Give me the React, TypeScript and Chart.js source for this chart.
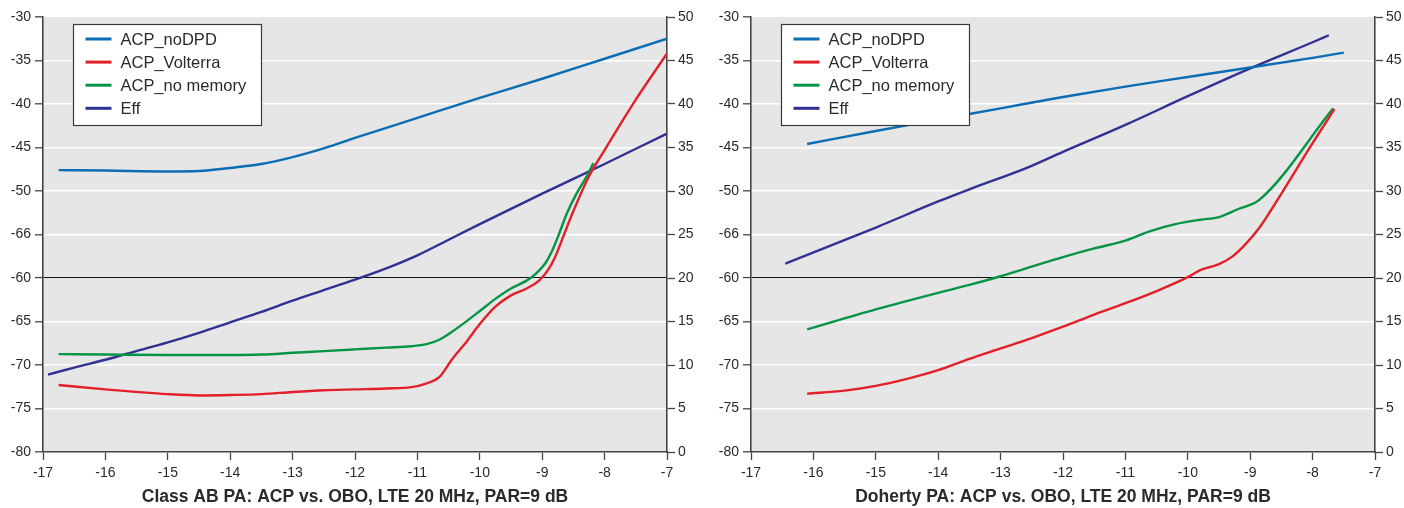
import React, { useEffect, useRef } from "react";
import { Chart, registerables } from "chart.js";

Chart.register(...registerables);

// ---------- data ----------
const SERIES_NAMES = ["ACP_noDPD", "ACP_Volterra", "ACP_no memory", "Eff"];
const SERIES_COLORS = ["#0b6db4", "#e3202a", "#069447", "#2f3193"];

const LEFT_TICK_LABELS = ["-30", "-35", "-40", "-45", "-50", "-66", "-60", "-65", "-70", "-75", "-80"];
const RIGHT_TICK_LABELS = ["50", "45", "40", "35", "30", "25", "20", "15", "10", "5", "0"];
const X_TICK_LABELS = ["-17", "-16", "-15", "-14", "-13", "-12", "-11", "-10", "-9", "-8", "-7"];

const TITLE_AB = "Class AB PA: ACP vs. OBO, LTE 20 MHz, PAR=9 dB";
const TITLE_DOHERTY = "Doherty PA: ACP vs. OBO, LTE 20 MHz, PAR=9 dB";

// Class AB panel
const AB_NODPD_X = [-16.75, -16, -15, -14.5, -14, -13.5, -13, -12.5, -12, -11, -10, -9, -8, -7];
const AB_NODPD_Y = [-47.6, -47.65, -47.75, -47.7, -47.35, -46.9, -46.1, -45.1, -43.9, -41.6, -39.3, -37.1, -34.8, -32.5];

const AB_VOLT_X = [-16.75, -16, -15, -14.5, -14, -13.5, -13, -12.5, -12, -11.5, -11.1, -10.85, -10.65, -10.45, -10.2, -10, -9.75, -9.5, -9.25, -9.05, -8.9, -8.8, -8.65, -8.5, -8.25, -8, -7.5, -7];
const AB_VOLT_Y = [-72.3, -72.8, -73.35, -73.5, -73.45, -73.35, -73.1, -72.9, -72.8, -72.7, -72.55, -72.1, -71.4, -69.4, -67.2, -65.3, -63.3, -62.0, -61.2, -60.3, -59.0, -57.7, -55.0, -52.3, -48.3, -45.3, -39.5, -34.2];

const AB_NOMEM_X = [-16.75, -16, -15, -14, -13.5, -13, -12.5, -12, -11.5, -11.1, -10.85, -10.65, -10.45, -10.2, -10, -9.75, -9.5, -9.25, -9.1, -8.95, -8.85, -8.75, -8.6, -8.45, -8.3, -8.18];
const AB_NOMEM_Y = [-68.75, -68.8, -68.85, -68.85, -68.8, -68.6, -68.4, -68.2, -68.0, -67.85, -67.6, -67.1, -66.2, -64.9, -63.8, -62.4, -61.2, -60.3, -59.5, -58.3, -57.0, -55.3, -52.5, -50.3, -48.5, -46.8];

const AB_EFF_X = [-16.92, -16.5, -16, -15.5, -15, -14.5, -14, -13.5, -13, -12.5, -12, -11.5, -11, -10.5, -10, -9, -8, -7];
const AB_EFF_Y = [8.9, 9.7, 10.6, 11.6, 12.6, 13.7, 14.9, 16.1, 17.4, 18.6, 19.8, 21.1, 22.6, 24.4, 26.2, 29.7, 33.1, 36.6];

// Doherty panel
const DH_NODPD_X = [-16.1, -15, -14, -13, -12, -11, -10, -9, -8, -7.5];
const DH_NODPD_Y = [-44.6, -43.1, -41.8, -40.5, -39.2, -38.0, -36.9, -35.8, -34.7, -34.1];

const DH_VOLT_X = [-16.1, -15.5, -15, -14.5, -14, -13.5, -13, -12.5, -12, -11.5, -11, -10.5, -10, -9.8, -9.5, -9.3, -9.1, -8.85, -8.5, -8, -7.65];
const DH_VOLT_Y = [-73.3, -72.95, -72.4, -71.6, -70.6, -69.3, -68.1, -66.9, -65.6, -64.2, -62.9, -61.5, -59.9, -59.1, -58.4, -57.6, -56.3, -54.2, -50.3, -44.5, -40.6];

const DH_NOMEM_X = [-16.1, -15, -14, -13.5, -13, -12.5, -12, -11.5, -11, -10.6, -10.2, -9.8, -9.5, -9.2, -8.85, -7.67];
const DH_NOMEM_Y = [-65.9, -63.6, -61.7, -60.8, -59.8, -58.7, -57.6, -56.6, -55.7, -54.6, -53.8, -53.3, -53.0, -52.1, -51.0, -40.5];

const DH_EFF_X = [-16.45, -15, -14, -13.5, -12.6, -12, -11, -10, -9, -8, -7.74];
const DH_EFF_Y = [21.65, 25.8, 28.8, 30.2, 32.6, 34.5, 37.6, 40.9, 44.1, 47.1, 47.9];

const AB_SERIES = [
  { x: AB_NODPD_X, y: AB_NODPD_Y },
  { x: AB_VOLT_X, y: AB_VOLT_Y },
  { x: AB_NOMEM_X, y: AB_NOMEM_Y },
  { x: AB_EFF_X, y: AB_EFF_Y },
];
const DH_SERIES = [
  { x: DH_NODPD_X, y: DH_NODPD_Y },
  { x: DH_VOLT_X, y: DH_VOLT_Y },
  { x: DH_NOMEM_X, y: DH_NOMEM_Y },
  { x: DH_EFF_X, y: DH_EFF_Y },
];

// ---------- styling ----------
const FONT = "'Liberation Sans', Arial, Helvetica, sans-serif";
const TEXT = "#2a2a2a";
const AXIS = "#454545";
const PLOT_BG = "#e6e6e6";

const bgPlugin = {
  id: "plotBg",
  beforeDraw(chart: any) {
    const { ctx, chartArea } = chart;
    if (!chartArea) return;
    ctx.save();
    ctx.fillStyle = PLOT_BG;
    ctx.fillRect(chartArea.left, chartArea.top, chartArea.right - chartArea.left, chartArea.bottom - chartArea.top);
    ctx.restore();
  },
};

const legendBoxPlugin = {
  id: "legendBox",
  afterDatasetsDraw(chart: any) {
    const { ctx, chartArea } = chart;
    const x0 = chartArea.left + 30.5;
    const y0 = 24.5;
    const w = 188;
    const h = 101;
    ctx.save();
    ctx.fillStyle = "#ffffff";
    ctx.fillRect(x0, y0, w, h);
    ctx.strokeStyle = "#3a3a3a";
    ctx.lineWidth = 1.2;
    ctx.strokeRect(x0, y0, w, h);
    ctx.font = `16.5px ${FONT}`;
    ctx.textBaseline = "middle";
    ctx.textAlign = "left";
    chart.data.datasets.forEach((ds: any, i: number) => {
      const cy = y0 + 14.5 + i * 23.1;
      ctx.strokeStyle = ds.borderColor;
      ctx.lineWidth = 3;
      ctx.beginPath();
      ctx.moveTo(x0 + 12, cy);
      ctx.lineTo(x0 + 38, cy);
      ctx.stroke();
      ctx.fillStyle = TEXT;
      ctx.fillText(ds.label, x0 + 47, cy + 1);
    });
    ctx.restore();
  },
};

function buildConfig(series: { x: number[]; y: number[] }[], title: string, leftW: number, rightW: number) {
  const datasets = series.map((s, i) => ({
    label: SERIES_NAMES[i],
    data: s.x.map((x, j) => ({ x, y: s.y[j] })),
    borderColor: SERIES_COLORS[i],
    backgroundColor: SERIES_COLORS[i],
    borderWidth: 2.4,
    pointRadius: 0,
    pointHoverRadius: 0,
    cubicInterpolationMode: "monotone" as const,
    fill: false,
    yAxisID: i === 3 ? "y2" : "y",
  }));

  const tickFont = { family: FONT, size: 14 };

  return {
    type: "line" as const,
    data: { datasets },
    plugins: [bgPlugin, legendBoxPlugin],
    options: {
      animation: false as const,
      responsive: true,
      maintainAspectRatio: false,
      layout: { padding: { top: 17, left: 0, right: 0, bottom: 0 } },
      plugins: {
        legend: { display: false },
        tooltip: { enabled: false },
        title: { display: false },
      },
      scales: {
        x: {
          type: "linear" as const,
          position: "bottom" as const,
          min: -17,
          max: -7,
          afterFit: (scale: any) => {
            scale.height = 56;
          },
          afterBuildTicks: (scale: any) => {
            scale.ticks = X_TICK_LABELS.map((t) => ({ value: Number(t) }));
          },
          ticks: {
            font: tickFont,
            color: TEXT,
            padding: 5,
            maxRotation: 0,
            autoSkip: false,
            callback: (v: any) => {
              const idx = X_TICK_LABELS.findIndex((t) => Number(t) === Number(v));
              return idx >= 0 ? X_TICK_LABELS[idx] : "";
            },
          },
          grid: {
            drawOnChartArea: false,
            drawTicks: true,
            tickLength: 8,
            tickColor: AXIS,
            tickWidth: 1.3,
          },
          border: { display: true, color: AXIS, width: 1.6 },
          title: {
            display: true,
            text: title,
            color: TEXT,
            font: { family: FONT, size: 17.5, weight: "bold" as const },
            padding: { top: 0, bottom: 0 },
          },
        },
        y: {
          type: "linear" as const,
          position: "left" as const,
          min: -80,
          max: -30,
          afterFit: (scale: any) => {
            scale.width = leftW;
          },
          afterBuildTicks: (scale: any) => {
            scale.ticks = LEFT_TICK_LABELS.map((_, i) => ({ value: -30 - i * 5 }));
          },
          ticks: {
            font: tickFont,
            color: TEXT,
            padding: 4,
            autoSkip: false,
            callback: (v: any) => {
              const idx = Math.round((-30 - Number(v)) / 5);
              return LEFT_TICK_LABELS[idx] ?? "";
            },
          },
          grid: {
            drawOnChartArea: true,
            drawTicks: true,
            tickLength: 8,
            tickColor: AXIS,
            tickWidth: 1.3,
            color: (ctx: any) => {
              const v = ctx.tick ? ctx.tick.value : null;
              if (v === -60) return "#111111";
              if (v === -80 || v === -30) return "rgba(0,0,0,0)";
              return "#ffffff";
            },
            lineWidth: (ctx: any) => (ctx.tick && ctx.tick.value === -60 ? 1.1 : 1.6),
          },
          border: { display: true, color: AXIS, width: 1.6 },
        },
        y2: {
          type: "linear" as const,
          position: "right" as const,
          min: 0,
          max: 50,
          afterFit: (scale: any) => {
            scale.width = rightW;
          },
          afterBuildTicks: (scale: any) => {
            scale.ticks = RIGHT_TICK_LABELS.map((_, i) => ({ value: 50 - i * 5 }));
          },
          ticks: {
            font: tickFont,
            color: TEXT,
            padding: 3,
            autoSkip: false,
            callback: (v: any) => {
              const idx = Math.round((50 - Number(v)) / 5);
              return RIGHT_TICK_LABELS[idx] ?? "";
            },
          },
          grid: {
            drawOnChartArea: false,
            drawTicks: true,
            tickLength: 8,
            tickColor: AXIS,
            tickWidth: 1.3,
          },
          border: { display: true, color: AXIS, width: 1.6 },
        },
      },
    },
  };
}

function Panel(props: { series: { x: number[]; y: number[] }[]; title: string; left: number; width: number; leftW: number; rightW: number }) {
  const ref = useRef<HTMLCanvasElement | null>(null);
  useEffect(() => {
    if (!ref.current) return;
    const chart = new Chart(ref.current, buildConfig(props.series, props.title, props.leftW, props.rightW) as any);
    return () => chart.destroy();
  }, []);
  return (
    <div style={{ position: "absolute", left: props.left, top: 0, width: props.width, height: 508 }}>
      <canvas ref={ref} />
    </div>
  );
}

export default function App() {
  return (
    <div style={{ position: "fixed", left: 0, top: 0, width: 1404, height: 508, background: "#ffffff" }}>
      <Panel series={AB_SERIES} title={TITLE_AB} left={0} width={702} leftW={43} rightW={35} />
      <Panel series={DH_SERIES} title={TITLE_DOHERTY} left={702} width={702} leftW={49} rightW={29} />
    </div>
  );
}
